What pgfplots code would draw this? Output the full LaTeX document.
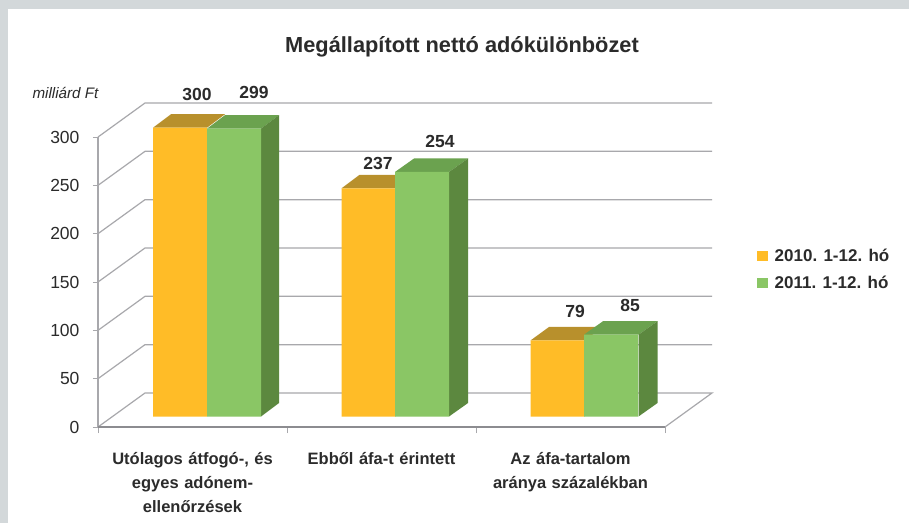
\documentclass[border=0pt]{standalone}
\usepackage{pgfplots}
\pgfplotsset{compat=1.18}
\usepackage{fontspec}
\setmainfont{Liberation Sans}
\definecolor{frameg}{HTML}{D3D8DA}
\definecolor{gridg}{HTML}{A8A8AC}
\definecolor{axisg}{HTML}{8C8C90}
\definecolor{txt}{HTML}{2B2B2B}
\definecolor{orf}{HTML}{FFBC27}
\definecolor{ort}{HTML}{B8902C}
\definecolor{grf}{HTML}{8AC665}
\definecolor{grt}{HTML}{6BA24F}
\definecolor{grs}{HTML}{5C883F}
\begin{document}
\begin{tikzpicture}[x=1pt,y=1pt]
\useasboundingbox (0,0) rectangle (909,523);
\fill[frameg] (0,0) rectangle (909,523);
\fill[white] (8,0) rectangle (909,514);
\node[font=\bfseries\fontsize{21.8}{24}\selectfont,text=txt,anchor=center] at (462,476) {Megállapított nettó adókülönbözet};
\node[font=\itshape\fontsize{15.2}{17}\selectfont,text=txt,anchor=west] at (29,430) {milliárd Ft};
% walls, ticks
\begin{axis}[
  at={(98pt,96pt)},anchor=south west,scale only axis,width=614pt,height=324pt,
  xmin=0,xmax=3.2487,ymin=0,ymax=335.2,clip=false,
  axis line style={draw=none},
  xtick={0.5,1.5,2.5},minor xtick={0,1,2,3},
  ytick={0,50,100,150,200,250,300},
  xtick pos=bottom,ytick pos=left,tick align=outside,
  major tick length=5pt,minor tick length=6pt,
  major x tick style={draw=none},
  minor x tick style={draw=gridg,line width=1pt},
  major y tick style={draw=gridg,line width=1pt},
  /pgf/number format/assume math mode=true,
  yticklabel style={font=\fontsize{17.5}{19}\selectfont,text=txt,xshift=-10pt},
  xticklabels={{Utólagos átfogó-, és\\egyes adónem-\\ellenőrzések},{Ebből áfa-t érintett},{Az áfa-tartalom\\aránya százalékban}},
  xticklabel style={font=\bfseries\fontsize{16.5}{24}\selectfont,text=txt,align=center,text width=185pt,yshift=-17pt,anchor=north},
]
\addplot[gridg,line width=1.2pt] coordinates {(0,300)(0.2487,335.2)(3.2487,335.2)};
\addplot[gridg,line width=1.2pt] coordinates {(0,250)(0.2487,285.2)(3.2487,285.2)};
\addplot[gridg,line width=1.2pt] coordinates {(0,200)(0.2487,235.2)(3.2487,235.2)};
\addplot[gridg,line width=1.2pt] coordinates {(0,150)(0.2487,185.2)(3.2487,185.2)};
\addplot[gridg,line width=1.2pt] coordinates {(0,100)(0.2487,135.2)(3.2487,135.2)};
\addplot[gridg,line width=1.2pt] coordinates {(0,50)(0.2487,85.2)(3.2487,85.2)};
\addplot[gridg,line width=1.2pt] coordinates {(0,0)(0.2487,35.2)(3.2487,35.2)(3,0)};
\addplot[gridg,line width=1.4pt] coordinates {(0,0)(0,300)};
\addplot[axisg,line width=2pt] coordinates {(0,0)(3,0)};
\end{axis}
% bars
\begin{axis}[
  at={(0pt,106.5pt)},anchor=south west,scale only axis,width=909pt,height=385.08pt,
  xmin=0,xmax=909,ymin=0,ymax=400,clip=false,
  axis line style={draw=none},xtick=\empty,ytick=\empty,
  legend style={at={(axis cs:757,176)},anchor=north west,draw=none,fill=none,
    font=\bfseries\fontsize{17}{19}\selectfont,text=txt,row sep=9pt,inner sep=0pt},
  legend cell align=left,
  legend image code/.code={\fill[#1] (0pt,-5.2pt) rectangle (10.5pt,5.3pt);},
]
\addplot[fill=ort,draw=none,forget plot] coordinates {(153,300)(207,300)(225,314)(171,314)} --cycle;
\addplot[fill=grt,draw=none,forget plot] coordinates {(207,299)(261,299)(279,313)(225,313)} --cycle;
\addplot[fill=grs,draw=none,forget plot] coordinates {(261,0)(279,14)(279,313)(261,299)} --cycle;
\addplot[fill=ort,draw=none,forget plot] coordinates {(341.5,237)(395.5,237)(413.5,251)(359.5,251)} --cycle;
\addplot[fill=grt,draw=none,forget plot] coordinates {(395,254)(449,254)(468,268)(414,268)} --cycle;
\addplot[fill=grs,draw=none,forget plot] coordinates {(449,0)(468,14)(468,268)(449,254)} --cycle;
\addplot[fill=ort,draw=none,forget plot] coordinates {(530.5,79)(584.5,79)(603,93)(549,93)} --cycle;
\addplot[fill=grt,draw=none,forget plot] coordinates {(584,85)(638.5,85)(657.5,99)(603,99)} --cycle;
\addplot[fill=grs,draw=none,forget plot] coordinates {(638.5,0)(657.5,14)(657.5,99)(638.5,85)} --cycle;
\addplot[ybar,bar width=54pt,bar shift=0pt,fill=orf,draw=none] coordinates {(180,300)(368.5,237)(557.5,79)};
\addlegendentry{\hspace{5pt}2010. 1-12. hó}
\addplot[ybar,bar width=54pt,bar shift=0pt,fill=grf,draw=none] coordinates {(234,299)(422,254)(611.2,85)};
\addlegendentry{\hspace{5pt}2011. 1-12. hó}
\begin{scope}[every node/.style={font=\bfseries\fontsize{17.5}{19}\selectfont,text=txt}]
\node at (axis cs:197,335) {300};
\node at (axis cs:254,337) {299};
\node at (axis cs:378,263.3) {237};
\node at (axis cs:440,286) {254};
\node at (axis cs:575,109.6) {79};
\node at (axis cs:630,115.8) {85};
\end{scope}
\end{axis}
\end{tikzpicture}
\end{document}
